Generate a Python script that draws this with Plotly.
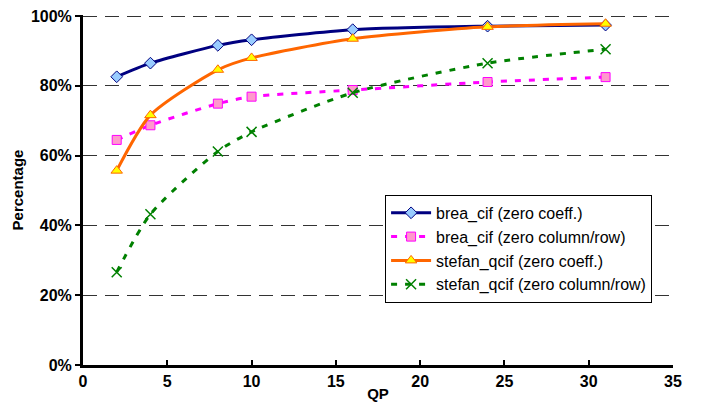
import plotly.graph_objects as go

qp = [2, 4, 8, 10, 16, 24, 31]
brea_coeff = [0.826, 0.865, 0.916, 0.932, 0.961, 0.971, 0.974]
brea_colrow = [0.645, 0.687, 0.749, 0.769, 0.788, 0.811, 0.825]
stefan_coeff = [0.557, 0.716, 0.846, 0.880, 0.935, 0.969, 0.978]
stefan_colrow = [0.266, 0.432, 0.612, 0.668, 0.780, 0.865, 0.905]
names = ["brea_cif (zero coeff.)", "brea_cif (zero column/row)",
         "stefan_qcif (zero coeff.)", "stefan_qcif (zero column/row)"]
y_ticks = [0, 0.2, 0.4, 0.6, 0.8, 1.0]
x_ticks = [0, 5, 10, 15, 20, 25, 30, 35]

FONT = "Liberation Sans, Arial, sans-serif"

fig = go.Figure()
fig.add_trace(go.Scatter(
    x=qp, y=brea_coeff, name=names[0], mode="lines+markers",
    line=dict(color="#000080", width=3, shape="spline", smoothing=0.7),
    marker=dict(symbol="diamond", size=9, color="#99ccff", line=dict(color="#000080", width=1))))
fig.add_trace(go.Scatter(
    x=qp, y=brea_colrow, name=names[1], mode="lines+markers",
    line=dict(color="#ff00ff", width=3, dash="6px,8px", shape="spline", smoothing=0.7),
    marker=dict(symbol="square", size=9, color="#ff99cc", line=dict(color="#ff00ff", width=1))))
fig.add_trace(go.Scatter(
    x=qp, y=stefan_coeff, name=names[2], mode="lines+markers",
    line=dict(color="#ff6600", width=3, shape="spline", smoothing=0.7),
    marker=dict(symbol="triangle-up", size=10, color="#ffff00", line=dict(color="#ff6600", width=1))))
fig.add_trace(go.Scatter(
    x=qp, y=stefan_colrow, name=names[3], mode="lines+markers",
    line=dict(color="#008000", width=3, dash="6px,8px", shape="spline", smoothing=0.7),
    marker=dict(symbol="x-thin", size=10, color="#008000", line=dict(color="#008000", width=1.5))))

fig.update_layout(
    width=696, height=397,
    margin=dict(l=75, r=31, t=7, b=40, autoexpand=False),
    paper_bgcolor="white", plot_bgcolor="white",
    font=dict(family=FONT, color="black"),
    legend=dict(x=0.512, y=0.486, xanchor="left", yanchor="top",
                bgcolor="white", bordercolor="black", borderwidth=1,
                font=dict(size=16), tracegroupgap=0, itemwidth=40),
    showlegend=True,
)
fig.update_xaxes(
    range=[0, 35], tickvals=x_ticks, ticktext=[str(v) for v in x_ticks],
    showline=True, linecolor="black", linewidth=3, mirror=False,
    ticks="inside", ticklen=5, tickwidth=2, tickcolor="black",
    showgrid=False, zeroline=False, automargin=False, ticklabeloverflow="allow",
    tickfont=dict(size=16, family=FONT, weight="bold"),
    title=dict(text="<b>QP</b>", font=dict(size=15), standoff=0),
)
fig.update_yaxes(
    range=[0, 1.003], tickvals=y_ticks, ticktext=[f"{int(v*100)}%" for v in y_ticks],
    showline=True, linecolor="black", linewidth=3,
    ticks="outside", ticklen=5, tickwidth=2, tickcolor="black",
    showgrid=True, gridcolor="#333333", gridwidth=1.2, griddash="14px,8px",
    zeroline=False, automargin=False, ticklabeloverflow="allow",
    tickfont=dict(size=16, family=FONT, weight="bold"),
    title=dict(text="<b>Percentage</b>", font=dict(size=15), standoff=4),
)

fig.write_html("out.html")
